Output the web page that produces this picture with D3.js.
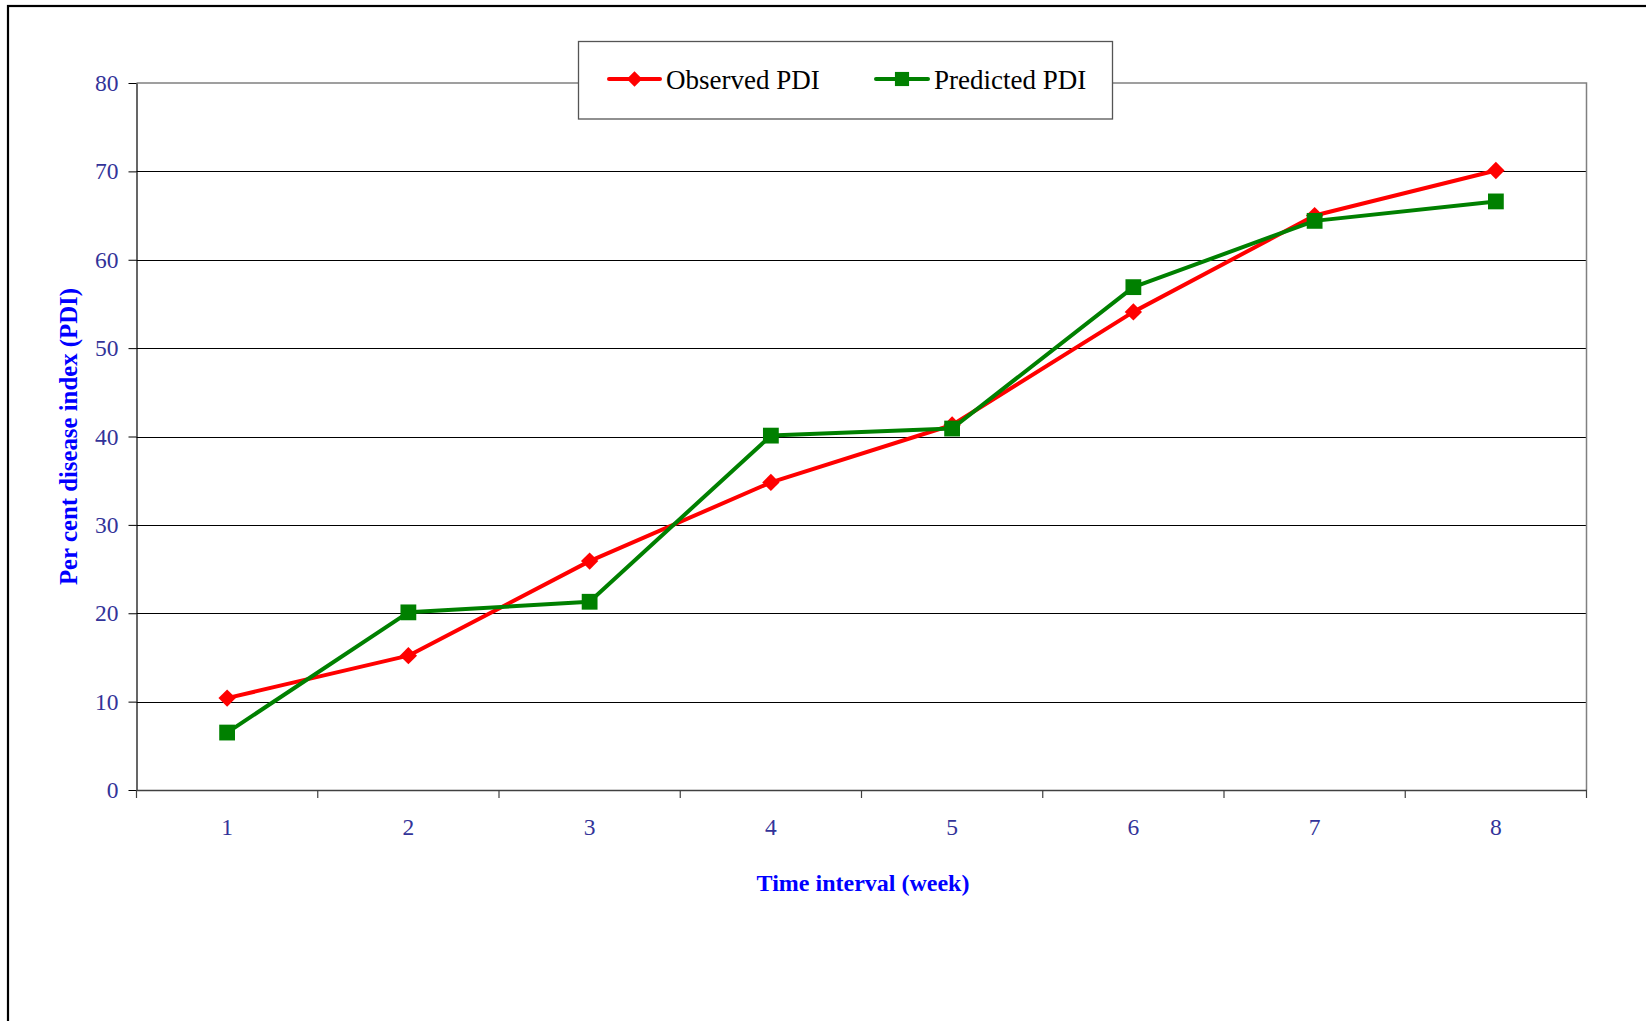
<!DOCTYPE html>
<html>
<head>
<meta charset="utf-8">
<script src="https://cdn.jsdelivr.net/npm/d3@7"></script>
<style>
html,body{margin:0;padding:0;background:#fff;}
svg{display:block;}
</style>
</head>
<body>
<svg id="chart" width="1646" height="1021"></svg>
<script>
const categories = ["1","2","3","4","5","6","7","8"];
const observed = [10.4, 15.2, 25.9, 34.8, 41.3, 54.1, 65.0, 70.1];
const predicted = [6.5, 20.1, 21.3, 40.1, 40.9, 56.9, 64.4, 66.6];
const yTicks = [0,10,20,30,40,50,60,70,80];
const seriesNames = ["Observed PDI","Predicted PDI"];
const xTitle = "Time interval (week)";
const yTitle = "Per cent disease index (PDI)";

(function(){
const svg = d3.select("#chart");
const font = "'Liberation Serif','Times New Roman',Times,serif";
const pL = 136.5, pR = 1586.5, pT = 83, pB = 790;

const x = d3.scaleBand().domain(categories).range([pL, pR]).padding(0);
const y = d3.scaleLinear().domain([0, 80]).range([pB, pT]);

// outer frame (clipped at right/bottom)
svg.append("rect").attr("x", 8).attr("y", 6).attr("width", 1700).attr("height", 1100)
  .attr("fill", "none").attr("stroke", "#000").attr("stroke-width", 2.2);

// gridlines
svg.append("g").selectAll("line").data(yTicks.filter(d => d > 0 && d < 80)).join("line")
  .attr("x1", pL).attr("x2", pR)
  .attr("y1", d => Math.round(y(d)) + 0.5).attr("y2", d => Math.round(y(d)) + 0.5)
  .attr("stroke", "#000").attr("stroke-width", 1);

// plot border top/right
svg.append("path")
  .attr("d", `M${pL},${y(80)}H${pR}V${pB}`)
  .attr("fill", "none").attr("stroke", "#808080").attr("stroke-width", 1.5);

// y axis
const yAxis = svg.append("g").attr("transform", `translate(${pL},0)`)
  .call(d3.axisLeft(y).tickValues(yTicks).tickSize(8).tickPadding(10).tickSizeOuter(0));
yAxis.select(".domain").attr("stroke", "#000").attr("stroke-width", 1.2);
yAxis.selectAll(".tick line").attr("stroke", "#000");
yAxis.selectAll(".tick text").attr("font-family", font).attr("font-size", 23.5)
  .attr("fill", "#333399");

// x axis labels
const xAxis = svg.append("g").attr("transform", `translate(0,${pB})`)
  .call(d3.axisBottom(x).tickSize(0).tickPadding(28).tickSizeOuter(0));
xAxis.select(".domain").attr("stroke", "#404040").attr("stroke-width", 1.5);
xAxis.selectAll(".tick text").attr("font-family", font).attr("font-size", 23.5)
  .attr("fill", "#333399");
// x boundary ticks
const bounds = categories.map(c => x(c)).concat([x.range()[1]]);
svg.append("g").selectAll("line").data(bounds).join("line")
  .attr("x1", d => d).attr("x2", d => d)
  .attr("y1", pB).attr("y2", pB + 8)
  .attr("stroke", "#404040").attr("stroke-width", 1.2);

// axis titles
svg.append("text").attr("x", 863).attr("y", 891).attr("text-anchor", "middle")
  .attr("font-family", font).attr("font-weight", "bold").attr("font-size", 24)
  .attr("fill", "#0000FF").text(xTitle);
svg.append("text").attr("transform", "translate(77,436.5) rotate(-90)").attr("text-anchor", "middle")
  .attr("font-family", font).attr("font-weight", "bold").attr("font-size", 24.8)
  .attr("fill", "#0000FF").text(yTitle);

const cx = c => x(c) + x.bandwidth() / 2;
const series = [
  {name: seriesNames[0], values: observed, color: "#FF0000", symbol: d3.symbolSquare, size: 150, rot: 45},
  {name: seriesNames[1], values: predicted, color: "#008000", symbol: d3.symbolSquare, size: 250, rot: 0}
];
const line = d3.line().x((d, i) => cx(categories[i])).y(d => y(d));

series.forEach(s => {
  svg.append("path").datum(s.values).attr("d", line)
    .attr("fill", "none").attr("stroke", s.color).attr("stroke-width", 4)
    .attr("stroke-linejoin", "round");
});
series.forEach(s => {
  svg.append("g").selectAll("path").data(s.values).join("path")
    .attr("transform", (d, i) => `translate(${cx(categories[i])},${y(d)}) rotate(${s.rot})`)
    .attr("d", d3.symbol().type(s.symbol).size(s.size)).attr("fill", s.color);
});

// legend
const lg = svg.append("g");
lg.append("rect").attr("x", 578.5).attr("y", 41.5).attr("width", 534).attr("height", 77.5)
  .attr("fill", "#fff").attr("stroke", "#555").attr("stroke-width", 1.3);
const legendPos = [{x1: 609, x2: 660, tx: 666}, {x1: 876, x2: 928, tx: 934}];
series.forEach((s, i) => {
  const p = legendPos[i];
  lg.append("line").attr("x1", p.x1).attr("x2", p.x2).attr("y1", 79).attr("y2", 79)
    .attr("stroke", s.color).attr("stroke-width", 4).attr("stroke-linecap", "round");
  lg.append("path").attr("transform", `translate(${(p.x1 + p.x2) / 2},79) rotate(${s.rot})`)
    .attr("d", d3.symbol().type(s.symbol).size(s.size * 0.8)).attr("fill", s.color);
  lg.append("text").attr("x", p.tx).attr("y", 89).attr("font-family", font)
    .attr("font-size", 27).attr("fill", "#000").text(s.name);
});
})();
</script>
</body>
</html>
